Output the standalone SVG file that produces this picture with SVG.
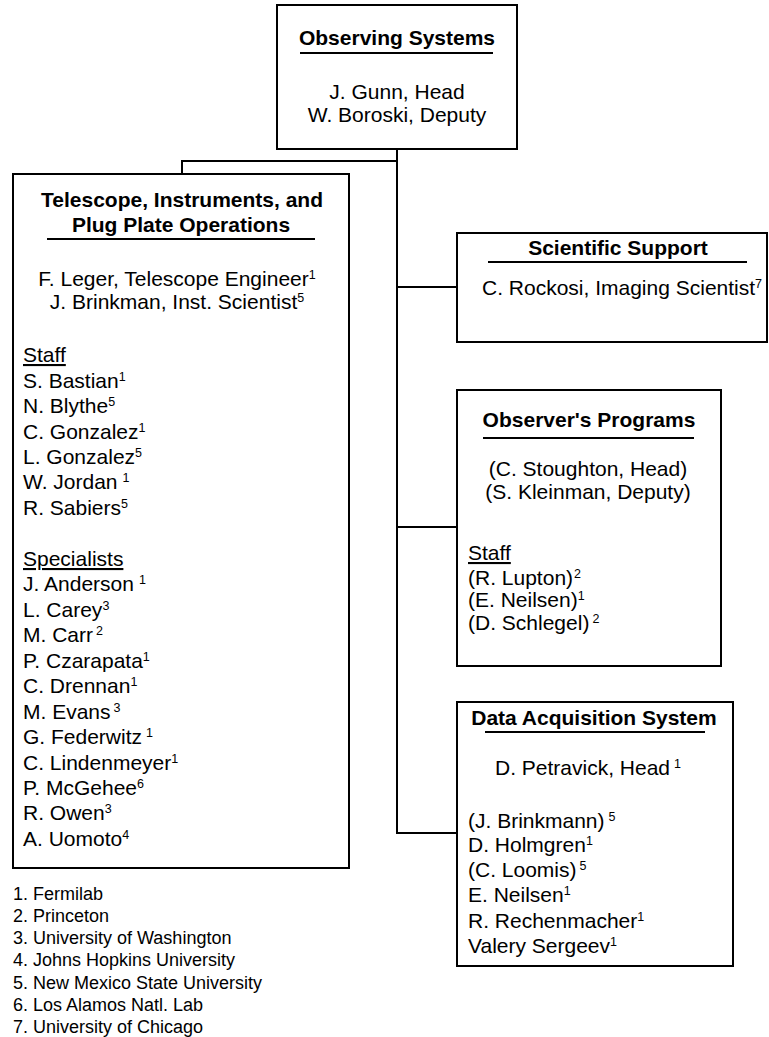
<svg xmlns="http://www.w3.org/2000/svg" width="769" height="1037" viewBox="0 0 769 1037">
<style>
text{font-family:"Liberation Sans",Arial,sans-serif;font-size:21px;fill:#000}
.b{font-weight:bold}
.c{text-anchor:middle}
.s{font-size:12.5px}
.u{text-decoration:underline}
.fn{font-size:18px}
.box{fill:#fff;stroke:#000;stroke-width:2}
.ln{stroke:#000;stroke-width:2;fill:none}
</style>
<rect width="769" height="1037" fill="#fff"/>
<g id="connectors">
<path class="ln" d="M397,149 V834 M397,161 H182 V174 M397,287 H457 M397,527 H457 M397,833 H457"/>
</g>
<g id="observing-systems">
<rect class="box" x="277" y="5" width="240" height="144"/>
<text class="b c" x="397" y="45">Observing Systems</text>
<line class="ln" x1="300" y1="53" x2="493" y2="53"/>
<text class="c" x="397" y="99">J. Gunn, Head</text>
<text class="c" x="397" y="122">W. Boroski, Deputy</text>
</g>
<g id="telescope">
<rect class="box" x="13" y="174" width="336" height="694"/>
<text class="b c" x="182" y="207">Telescope, Instruments, and</text>
<text class="b c" x="181" y="232">Plug Plate Operations</text>
<line class="ln" x1="47" y1="239" x2="315" y2="239"/>
<text class="c" x="177" y="286">F. Leger, Telescope Engineer<tspan class="s" dy="-7">1</tspan></text>
<text class="c" x="177" y="309">J. Brinkman, Inst. Scientist<tspan class="s" dy="-7">5</tspan></text>
<text class="u" x="23" y="362">Staff</text>
<text x="23" y="388">S. Bastian<tspan class="s" dy="-7">1</tspan></text>
<text x="23" y="413">N. Blythe<tspan class="s" dy="-7">5</tspan></text>
<text x="23" y="439">C. Gonzalez<tspan class="s" dy="-7">1</tspan></text>
<text x="23" y="464">L. Gonzalez<tspan class="s" dy="-7">5</tspan></text>
<text x="23" y="489">W. Jordan<tspan class="s" dx="5" dy="-7">1</tspan></text>
<text x="23" y="515">R. Sabiers<tspan class="s" dy="-7">5</tspan></text>
<text class="u" x="23" y="566">Specialists</text>
<text x="23" y="591">J. Anderson<tspan class="s" dx="5" dy="-7">1</tspan></text>
<text x="23" y="617">L. Carey<tspan class="s" dy="-7">3</tspan></text>
<text x="23" y="642">M. Carr<tspan class="s" dx="3" dy="-7">2</tspan></text>
<text x="23" y="668">P. Czarapata<tspan class="s" dy="-7">1</tspan></text>
<text x="23" y="693">C. Drennan<tspan class="s" dy="-7">1</tspan></text>
<text x="23" y="719">M. Evans<tspan class="s" dx="3" dy="-7">3</tspan></text>
<text x="23" y="744">G. Federwitz<tspan class="s" dx="4" dy="-7">1</tspan></text>
<text x="23" y="770">C. Lindenmeyer<tspan class="s" dy="-7">1</tspan></text>
<text x="23" y="795">P. McGehee<tspan class="s" dy="-7">6</tspan></text>
<text x="23" y="820">R. Owen<tspan class="s" dy="-7">3</tspan></text>
<text x="23" y="846">A. Uomoto<tspan class="s" dy="-7">4</tspan></text>
</g>
<g id="scientific-support">
<rect class="box" x="457" y="233" width="310" height="109"/>
<text class="b c" x="618" y="255">Scientific Support</text>
<line class="ln" x1="488" y1="262" x2="747" y2="262"/>
<text class="c" x="622" y="295">C. Rockosi, Imaging Scientist<tspan class="s" dy="-7">7</tspan></text>
</g>
<g id="observers-programs">
<rect class="box" x="457" y="390" width="264" height="276"/>
<text class="b c" x="589" y="427">Observer's Programs</text>
<line class="ln" x1="483" y1="438" x2="694" y2="438"/>
<text class="c" x="588" y="476">(C. Stoughton, Head)</text>
<text class="c" x="588" y="499">(S. Kleinman, Deputy)</text>
<text class="u" x="468" y="560">Staff</text>
<text x="468" y="585">(R. Lupton)<tspan class="s" dx="1" dy="-7">2</tspan></text>
<text x="468" y="607">(E. Neilsen)<tspan class="s" dy="-7">1</tspan></text>
<text x="468" y="630">(D. Schlegel)<tspan class="s" dx="3" dy="-7">2</tspan></text>
</g>
<g id="data-acquisition">
<rect class="box" x="457" y="702" width="276" height="264"/>
<text class="b c" x="594" y="725">Data Acquisition System</text>
<line class="ln" x1="485" y1="732" x2="705" y2="732"/>
<text class="c" x="588" y="775">D. Petravick, Head<tspan class="s" dx="4" dy="-7">1</tspan></text>
<text x="468" y="828">(J. Brinkmann)<tspan class="s" dx="4" dy="-7">5</tspan></text>
<text x="468" y="852">D. Holmgren<tspan class="s" dy="-7">1</tspan></text>
<text x="468" y="877">(C. Loomis)<tspan class="s" dx="3" dy="-7">5</tspan></text>
<text x="468" y="902">E. Neilsen<tspan class="s" dy="-7">1</tspan></text>
<text x="468" y="928">R. Rechenmacher<tspan class="s" dy="-7">1</tspan></text>
<text x="468" y="953">Valery Sergeev<tspan class="s" dy="-7">1</tspan></text>
</g>
<g id="footnotes">
<text class="fn" x="13" y="900">1. Fermilab</text>
<text class="fn" x="13" y="922">2. Princeton</text>
<text class="fn" x="13" y="944">3. University of Washington</text>
<text class="fn" x="13" y="966">4. Johns Hopkins University</text>
<text class="fn" x="13" y="989">5. New Mexico State University</text>
<text class="fn" x="13" y="1011">6. Los Alamos Natl. Lab</text>
<text class="fn" x="13" y="1033">7. University of Chicago</text>
</g>
</svg>
